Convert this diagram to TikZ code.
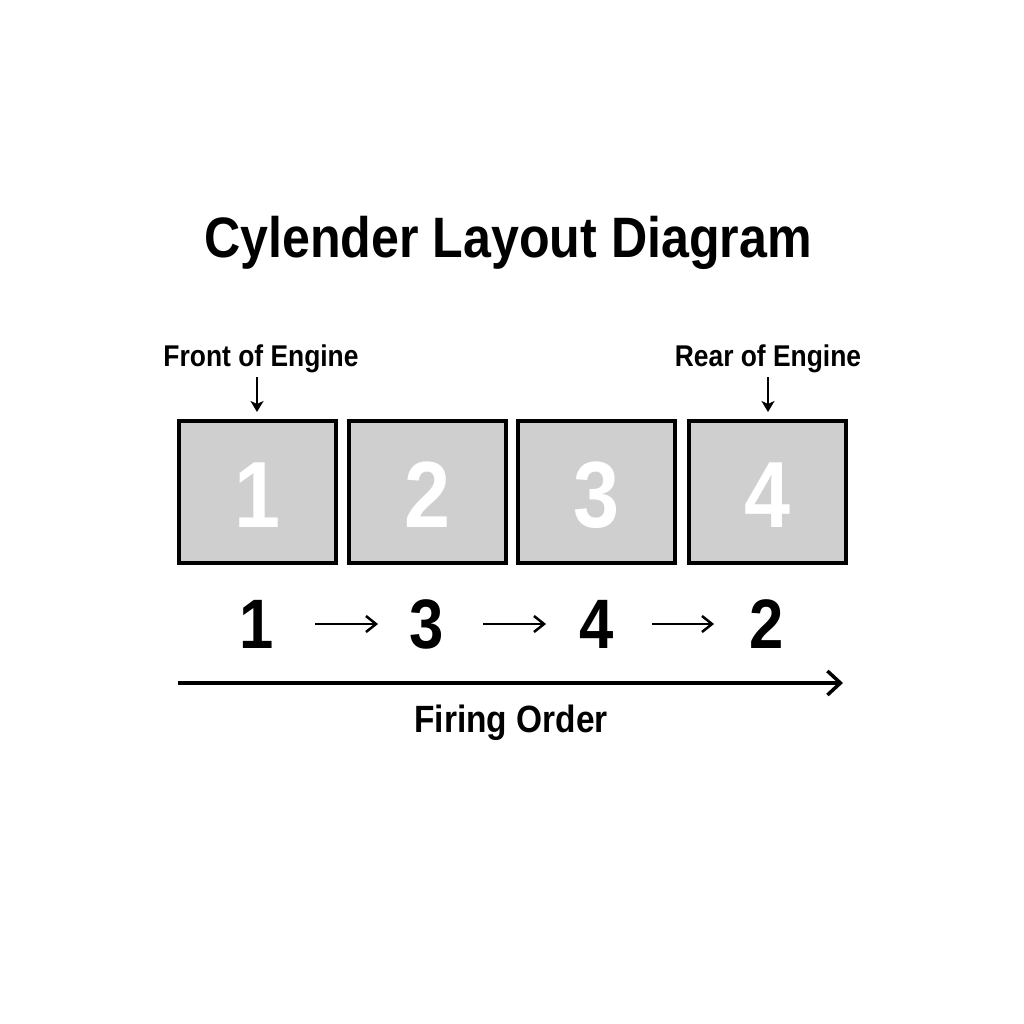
\documentclass[tikz,border=0pt]{standalone}
\usepackage{fontspec}
\newfontfamily\cf[FakeStretch=0.88]{Liberation Sans}
\usetikzlibrary{arrows.meta}
\definecolor{boxgray}{HTML}{CFCFCF}
\begin{document}
\begin{tikzpicture}[x=1pt,y=-1pt,
  cyl/.style={draw=black,line width=4pt,fill=boxgray,minimum width=157pt,minimum height=142pt,inner sep=0pt},
  cnum/.style={text=white,font=\cf\bfseries\fontsize{94}{94}\selectfont,anchor=base,inner sep=0pt},
  lbl/.style={font=\cf\bfseries\fontsize{30}{30}\selectfont,anchor=base,inner sep=0pt},
  fnum/.style={font=\cf\bfseries\fontsize{70}{70}\selectfont,anchor=base,inner sep=0pt},
  smallarrow/.style={line width=2pt,-{Stealth[length=11pt,width=13pt,inset=3pt]}},
  orderarrow/.style={line width=2.5pt,-{Straight Barb[length=10pt,width=16pt]}},
  longarrow/.style={line width=3.5pt,-{Straight Barb[length=13pt,width=24pt]}}
]
\useasboundingbox[fill=white] (0,0) rectangle (1024,1024);
\node[font=\cf\bfseries\fontsize{57}{57}\selectfont,anchor=base,inner sep=0pt] (title) at (508,257) {Cylender Layout Diagram};

\node[cyl] (c1) at (257,492) {};
\node[cyl] (c2) at (427,492) {};
\node[cyl] (c3) at (596,492) {};
\node[cyl] (c4) at (767,492) {};
\node[cnum] (t1) at (257,527) {1};
\node[cnum] (t2) at (427,527) {2};
\node[cnum] (t3) at (596,527) {3};
\node[cnum] (t4) at (767,527) {4};

\node[lbl] (front) at (261,366) {Front of Engine};
\node[lbl] (rear) at (768,366) {Rear of Engine};
\coordinate (fa) at (257,377);
\coordinate (fe) at (257,412);
\coordinate (ra) at (768,377);
\coordinate (re) at (768,412);
\draw[smallarrow] (fa) -- (fe);
\draw[smallarrow] (ra) -- (re);

\node[fnum] (o1) at (257,648) {1};
\node[fnum] (o3) at (427,648) {3};
\node[fnum] (o4) at (597,648) {4};
\node[fnum] (o2) at (767,648) {2};
\coordinate (a1s) at (315,624); \coordinate (a1e) at (378,624);
\coordinate (a2s) at (483,624); \coordinate (a2e) at (546,624);
\coordinate (a3s) at (652,624); \coordinate (a3e) at (714,624);
\draw[orderarrow] (a1s) -- (a1e);
\draw[orderarrow] (a2s) -- (a2e);
\draw[orderarrow] (a3s) -- (a3e);

\coordinate (ls) at (178,683); \coordinate (le) at (843,683);
\draw[longarrow] (ls) -- (le);
\node[font=\cf\bfseries\fontsize{38}{38}\selectfont,anchor=base,inner sep=0pt] (fo) at (511,732) {Firing Order};
\end{tikzpicture}
\end{document}
